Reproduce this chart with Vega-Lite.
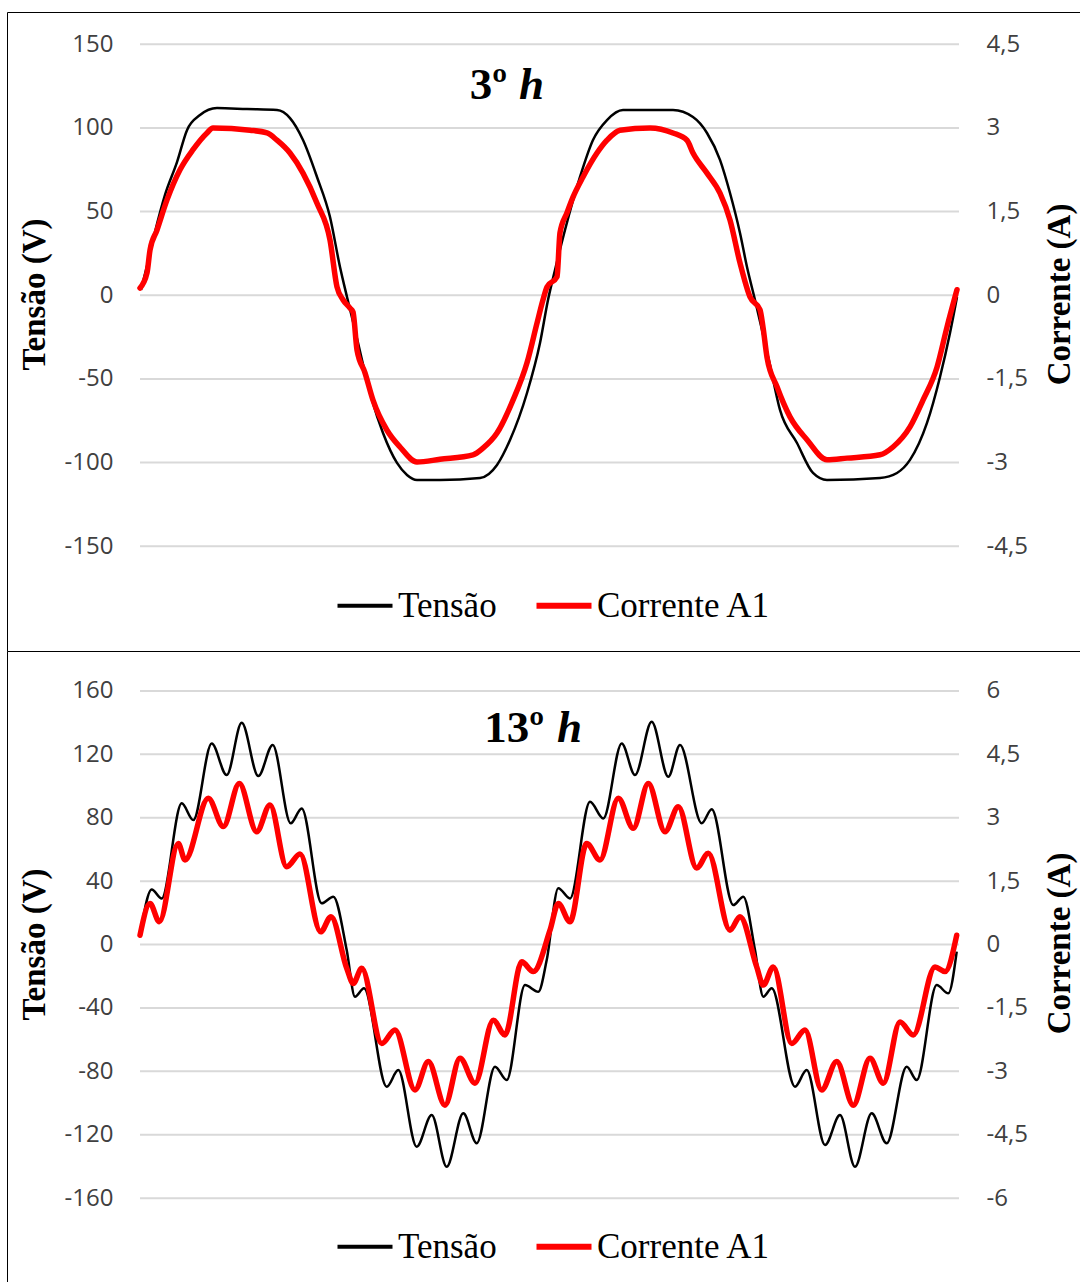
{
"$schema": "https://vega.github.io/schema/vega-lite/v6.json",
"padding": {"left": 7, "top": 12, "right": 0, "bottom": 0},
"spacing": 0,
"datasets": {
"grade3": [{"g":-150},{"g":-100},{"g":-50},{"g":0},{"g":50},{"g":100},{"g":150}],
"grade13": [{"g":-160},{"g":-120},{"g":-80},{"g":-40},{"g":0},{"g":40},{"g":80},{"g":120},{"g":160}],
"tensao3": [
{"t":1,"v":3.2,"serie":"Tensão"},{"t":8,"v":19.9,"serie":"Tensão"},{"t":15,"v":37.8,"serie":"Tensão"},{"t":25,"v":60.0,"serie":"Tensão"},{"t":37,"v":79.6,"serie":"Tensão"},{"t":47,"v":98.7,"serie":"Tensão"},{"t":60,"v":107.7,"serie":"Tensão"},{"t":77,"v":111.9,"serie":"Tensão"},{"t":107,"v":111.3,"serie":"Tensão"},{"t":137,"v":110.7,"serie":"Tensão"},{"t":150,"v":105.9,"serie":"Tensão"},{"t":163,"v":92.8,"serie":"Tensão"},{"t":177,"v":70.7,"serie":"Tensão"},{"t":190,"v":46.8,"serie":"Tensão"},{"t":200,"v":16.9,"serie":"Tensão"},{"t":207,"v":-1.0,"serie":"Tensão"},{"t":215,"v":-20.7,"serie":"Tensão"},{"t":222,"v":-38.7,"serie":"Tensão"},{"t":232,"v":-62.5,"serie":"Tensão"},{"t":243,"v":-82.3,"serie":"Tensão"},{"t":257,"v":-100.2,"serie":"Tensão"},{"t":267,"v":-107.4,"serie":"Tensão"},{"t":277,"v":-110.4,"serie":"Tensão"},{"t":300,"v":-110.4,"serie":"Tensão"},{"t":340,"v":-109.2,"serie":"Tensão"},{"t":357,"v":-101.4,"serie":"Tensão"},{"t":370,"v":-86.5,"serie":"Tensão"},{"t":387,"v":-58.4,"serie":"Tensão"},{"t":400,"v":-28.5,"serie":"Tensão"},{"t":408,"v":-2.8,"serie":"Tensão"},{"t":415,"v":15.1,"serie":"Tensão"},{"t":425,"v":39.0,"serie":"Tensão"},{"t":440,"v":70.7,"serie":"Tensão"},{"t":453,"v":92.8,"serie":"Tensão"},{"t":467,"v":104.7,"serie":"Tensão"},{"t":483,"v":110.7,"serie":"Tensão"},{"t":533,"v":110.7,"serie":"Tensão"},{"t":553,"v":106.5,"serie":"Tensão"},{"t":567,"v":97.0,"serie":"Tensão"},{"t":580,"v":80.9,"serie":"Tensão"},{"t":590,"v":61.1,"serie":"Tensão"},{"t":600,"v":37.2,"serie":"Tensão"},{"t":607,"v":16.9,"serie":"Tensão"},{"t":615,"v":-2.8,"serie":"Tensão"},{"t":622,"v":-20.7,"serie":"Tensão"},{"t":630,"v":-41.7,"serie":"Tensão"},{"t":640,"v":-68.5,"serie":"Tensão"},{"t":657,"v":-88.3,"serie":"Tensão"},{"t":673,"v":-106.2,"serie":"Tensão"},{"t":687,"v":-110.4,"serie":"Tensão"},{"t":740,"v":-109.2,"serie":"Tensão"},{"t":757,"v":-106.2,"serie":"Tensão"},{"t":770,"v":-98.4,"serie":"Tensão"},{"t":787,"v":-76.3,"serie":"Tensão"},{"t":800,"v":-48.8,"serie":"Tensão"},{"t":810,"v":-22.5,"serie":"Tensão"},{"t":817,"v":-1.0,"serie":"Tensão"}
],
"corrente3": [
{"t":0,"i":0.13,"serie":"Corrente A1"},{"t":7,"i":0.40,"serie":"Corrente A1"},{"t":10,"i":0.81,"serie":"Corrente A1"},{"t":17,"i":1.17,"serie":"Corrente A1"},{"t":27,"i":1.71,"serie":"Corrente A1"},{"t":40,"i":2.25,"serie":"Corrente A1"},{"t":53,"i":2.61,"serie":"Corrente A1"},{"t":67,"i":2.91,"serie":"Corrente A1"},{"t":73,"i":3.00,"serie":"Corrente A1"},{"t":110,"i":2.96,"serie":"Corrente A1"},{"t":127,"i":2.91,"serie":"Corrente A1"},{"t":137,"i":2.78,"serie":"Corrente A1"},{"t":150,"i":2.55,"serie":"Corrente A1"},{"t":163,"i":2.19,"serie":"Corrente A1"},{"t":177,"i":1.65,"serie":"Corrente A1"},{"t":190,"i":0.99,"serie":"Corrente A1"},{"t":197,"i":0.15,"serie":"Corrente A1"},{"t":203,"i":-0.08,"serie":"Corrente A1"},{"t":210,"i":-0.23,"serie":"Corrente A1"},{"t":213,"i":-0.30,"serie":"Corrente A1"},{"t":217,"i":-0.98,"serie":"Corrente A1"},{"t":225,"i":-1.39,"serie":"Corrente A1"},{"t":233,"i":-1.88,"serie":"Corrente A1"},{"t":247,"i":-2.42,"serie":"Corrente A1"},{"t":260,"i":-2.72,"serie":"Corrente A1"},{"t":277,"i":-2.99,"serie":"Corrente A1"},{"t":300,"i":-2.94,"serie":"Corrente A1"},{"t":333,"i":-2.86,"serie":"Corrente A1"},{"t":343,"i":-2.74,"serie":"Corrente A1"},{"t":357,"i":-2.47,"serie":"Corrente A1"},{"t":373,"i":-1.88,"serie":"Corrente A1"},{"t":387,"i":-1.21,"serie":"Corrente A1"},{"t":397,"i":-0.50,"serie":"Corrente A1"},{"t":403,"i":-0.08,"serie":"Corrente A1"},{"t":407,"i":0.15,"serie":"Corrente A1"},{"t":417,"i":0.33,"serie":"Corrente A1"},{"t":420,"i":1.12,"serie":"Corrente A1"},{"t":427,"i":1.48,"serie":"Corrente A1"},{"t":433,"i":1.76,"serie":"Corrente A1"},{"t":443,"i":2.12,"serie":"Corrente A1"},{"t":457,"i":2.55,"serie":"Corrente A1"},{"t":467,"i":2.78,"serie":"Corrente A1"},{"t":480,"i":2.96,"serie":"Corrente A1"},{"t":510,"i":3.00,"serie":"Corrente A1"},{"t":533,"i":2.91,"serie":"Corrente A1"},{"t":547,"i":2.78,"serie":"Corrente A1"},{"t":553,"i":2.55,"serie":"Corrente A1"},{"t":567,"i":2.19,"serie":"Corrente A1"},{"t":580,"i":1.83,"serie":"Corrente A1"},{"t":590,"i":1.35,"serie":"Corrente A1"},{"t":600,"i":0.58,"serie":"Corrente A1"},{"t":610,"i":-0.03,"serie":"Corrente A1"},{"t":620,"i":-0.26,"serie":"Corrente A1"},{"t":623,"i":-0.57,"serie":"Corrente A1"},{"t":627,"i":-1.11,"serie":"Corrente A1"},{"t":637,"i":-1.64,"serie":"Corrente A1"},{"t":650,"i":-2.18,"serie":"Corrente A1"},{"t":667,"i":-2.59,"serie":"Corrente A1"},{"t":687,"i":-2.95,"serie":"Corrente A1"},{"t":707,"i":-2.92,"serie":"Corrente A1"},{"t":740,"i":-2.86,"serie":"Corrente A1"},{"t":753,"i":-2.72,"serie":"Corrente A1"},{"t":770,"i":-2.36,"serie":"Corrente A1"},{"t":783,"i":-1.88,"serie":"Corrente A1"},{"t":797,"i":-1.29,"serie":"Corrente A1"},{"t":807,"i":-0.57,"serie":"Corrente A1"},{"t":817,"i":0.10,"serie":"Corrente A1"}
],
"tensao13": [
{"t":0,"v":4.9,"serie":"Tensão"},{"t":11.7,"v":34.8,"serie":"Tensão"},{"t":21.7,"v":29.1,"serie":"Tensão"},{"t":41.7,"v":89.1,"serie":"Tensão"},{"t":53.3,"v":78.5,"serie":"Tensão"},{"t":71.7,"v":126.9,"serie":"Tensão"},{"t":86.7,"v":106.9,"serie":"Tensão"},{"t":101.7,"v":139.9,"serie":"Tensão"},{"t":118.3,"v":106.3,"serie":"Tensão"},{"t":132.7,"v":125.9,"serie":"Tensão"},{"t":150.7,"v":76.5,"serie":"Tensão"},{"t":161.7,"v":85.9,"serie":"Tensão"},{"t":181.7,"v":26.0,"serie":"Tensão"},{"t":193.3,"v":30.2,"serie":"Tensão"},{"t":206.7,"v":-3.5,"serie":"Tensão"},{"t":215,"v":-32.9,"serie":"Tensão"},{"t":224,"v":-27.6,"serie":"Tensão"},{"t":246.7,"v":-89.7,"serie":"Tensão"},{"t":258.3,"v":-79.2,"serie":"Tensão"},{"t":276.7,"v":-127.6,"serie":"Tensão"},{"t":291.7,"v":-107.6,"serie":"Tensão"},{"t":306.7,"v":-140.2,"serie":"Tensão"},{"t":323.3,"v":-106.5,"serie":"Tensão"},{"t":336.7,"v":-125.4,"serie":"Tensão"},{"t":355,"v":-77.1,"serie":"Tensão"},{"t":366.7,"v":-85.5,"serie":"Tensão"},{"t":385,"v":-25.6,"serie":"Tensão"},{"t":398.3,"v":-29.8,"serie":"Tensão"},{"t":406.7,"v":-9.8,"serie":"Tensão"},{"t":418.3,"v":35.5,"serie":"Tensão"},{"t":430,"v":29.1,"serie":"Tensão"},{"t":450,"v":90.1,"serie":"Tensão"},{"t":463.3,"v":79.6,"serie":"Tensão"},{"t":481.7,"v":126.9,"serie":"Tensão"},{"t":495,"v":106.9,"serie":"Tensão"},{"t":511.7,"v":140.6,"serie":"Tensão"},{"t":528.3,"v":105.9,"serie":"Tensão"},{"t":540,"v":125.9,"serie":"Tensão"},{"t":561.7,"v":76.5,"serie":"Tensão"},{"t":571.7,"v":85.3,"serie":"Tensão"},{"t":593.3,"v":24.9,"serie":"Tensão"},{"t":603.3,"v":30.2,"serie":"Tensão"},{"t":615,"v":-3.5,"serie":"Tensão"},{"t":623.3,"v":-32.9,"serie":"Tensão"},{"t":631.7,"v":-27.6,"serie":"Tensão"},{"t":655,"v":-89.7,"serie":"Tensão"},{"t":666.7,"v":-79.2,"serie":"Tensão"},{"t":685,"v":-126.5,"serie":"Tensão"},{"t":700,"v":-107.6,"serie":"Tensão"},{"t":715,"v":-140.2,"serie":"Tensão"},{"t":731.7,"v":-106.5,"serie":"Tensão"},{"t":746.7,"v":-125.4,"serie":"Tensão"},{"t":766.7,"v":-77.1,"serie":"Tensão"},{"t":776.7,"v":-85.5,"serie":"Tensão"},{"t":796.7,"v":-25.6,"serie":"Tensão"},{"t":808.3,"v":-30.8,"serie":"Tensão"},{"t":816.7,"v":-4.5,"serie":"Tensão"}
],
"corrente13": [
{"t":0,"i":0.22,"serie":"Corrente A1"},{"t":10,"i":0.97,"serie":"Corrente A1"},{"t":19.3,"i":0.54,"serie":"Corrente A1"},{"t":38.3,"i":2.39,"serie":"Corrente A1"},{"t":45,"i":2.00,"serie":"Corrente A1"},{"t":68.3,"i":3.46,"serie":"Corrente A1"},{"t":83.3,"i":2.79,"serie":"Corrente A1"},{"t":99.3,"i":3.81,"serie":"Corrente A1"},{"t":116.7,"i":2.67,"serie":"Corrente A1"},{"t":130,"i":3.30,"serie":"Corrente A1"},{"t":146.7,"i":1.84,"serie":"Corrente A1"},{"t":160,"i":2.14,"serie":"Corrente A1"},{"t":180.7,"i":0.30,"serie":"Corrente A1"},{"t":191,"i":0.66,"serie":"Corrente A1"},{"t":206.7,"i":-0.56,"serie":"Corrente A1"},{"t":213.3,"i":-0.92,"serie":"Corrente A1"},{"t":221.7,"i":-0.56,"serie":"Corrente A1"},{"t":241.7,"i":-2.34,"serie":"Corrente A1"},{"t":255,"i":-2.02,"serie":"Corrente A1"},{"t":275,"i":-3.44,"serie":"Corrente A1"},{"t":288.3,"i":-2.77,"serie":"Corrente A1"},{"t":305,"i":-3.80,"serie":"Corrente A1"},{"t":320,"i":-2.69,"serie":"Corrente A1"},{"t":335,"i":-3.28,"serie":"Corrente A1"},{"t":353.3,"i":-1.79,"serie":"Corrente A1"},{"t":365,"i":-2.14,"serie":"Corrente A1"},{"t":381.7,"i":-0.41,"serie":"Corrente A1"},{"t":393.3,"i":-0.64,"serie":"Corrente A1"},{"t":410,"i":0.34,"serie":"Corrente A1"},{"t":418.3,"i":0.97,"serie":"Corrente A1"},{"t":430,"i":0.54,"serie":"Corrente A1"},{"t":446.7,"i":2.39,"serie":"Corrente A1"},{"t":460,"i":2.00,"serie":"Corrente A1"},{"t":478.3,"i":3.46,"serie":"Corrente A1"},{"t":493.3,"i":2.75,"serie":"Corrente A1"},{"t":508.3,"i":3.81,"serie":"Corrente A1"},{"t":525,"i":2.67,"serie":"Corrente A1"},{"t":538.3,"i":3.26,"serie":"Corrente A1"},{"t":556.7,"i":1.81,"serie":"Corrente A1"},{"t":568.3,"i":2.16,"serie":"Corrente A1"},{"t":590,"i":0.34,"serie":"Corrente A1"},{"t":600,"i":0.66,"serie":"Corrente A1"},{"t":616.7,"i":-0.53,"serie":"Corrente A1"},{"t":623.3,"i":-0.96,"serie":"Corrente A1"},{"t":633.3,"i":-0.53,"serie":"Corrente A1"},{"t":651.7,"i":-2.34,"serie":"Corrente A1"},{"t":665,"i":-2.02,"serie":"Corrente A1"},{"t":681.7,"i":-3.44,"serie":"Corrente A1"},{"t":696.7,"i":-2.77,"serie":"Corrente A1"},{"t":713.3,"i":-3.80,"serie":"Corrente A1"},{"t":730,"i":-2.69,"serie":"Corrente A1"},{"t":743.3,"i":-3.28,"serie":"Corrente A1"},{"t":760,"i":-1.83,"serie":"Corrente A1"},{"t":773.3,"i":-2.14,"serie":"Corrente A1"},{"t":795,"i":-0.53,"serie":"Corrente A1"},{"t":805,"i":-0.64,"serie":"Corrente A1"},{"t":816.7,"i":0.22,"serie":"Corrente A1"}
]
},
"vconcat": [
{
"width": 1073, "height": 639,
"layer": [
{"data": {"name": "grade3"}, "mark": {"type": "rule", "color": "#d9d9d9", "strokeWidth": 2},
 "encoding": {"x": {"datum": 0, "type": "quantitative", "scale": {"domain": [-133, 940], "nice": false, "zero": false}}, "x2": {"datum": 819},
  "y": {"field": "g", "type": "quantitative", "scale": {"domain": [-212.6, 169.3], "nice": false, "zero": false}, "axis": null}}},
{"data": {"name": "tensao3"}, "mark": {"type": "line", "strokeWidth": 2.5, "interpolate": "monotone", "strokeJoin": "round"},
 "encoding": {
  "x": {"field": "t", "type": "quantitative", "scale": {"domain": [-133, 940], "nice": false, "zero": false},
   "axis": {"orient": "top", "domain": true, "domainColor": "#000000", "domainWidth": 1, "labels": false, "ticks": false, "grid": false, "title": null}},
  "y": {"field": "v", "type": "quantitative", "scale": {"domain": [-212.6, 169.3], "nice": false, "zero": false},
   "axis": {"orient": "left", "values": [-150, -100, -50, 0, 50, 100, 150], "labelExpr": "toString(datum.value)", "domain": true, "domainColor": "#000000", "domainWidth": 1, "ticks": false, "tickSize": 0, "grid": false, "labelPadding": -106, "labelAlign": "right", "labelBaseline": "middle", "labelFlush": false, "title": "Tensão (V)", "titleX": 37, "titleY": 282, "titleAngle": -90, "titleAlign": "center", "titleBaseline": "alphabetic"}},
  "color": {"field": "serie", "type": "nominal", "scale": {"domain": ["Tensão", "Corrente A1"], "range": ["#000000", "#ff0000"]},
   "legend": {"title": null, "orient": "none", "legendX": 340.5, "legendY": 576, "direction": "horizontal", "symbolType": "stroke", "symbolSize": 3025, "symbolStrokeWidth": 4, "labelFont": "Liberation Serif", "labelFontSize": 35, "labelColor": "#000000", "labelOffset": 15.5, "columnPadding": 27, "padding": 0, "labelLimit": 400,
    "encode": {"symbols": {"update": {"strokeWidth": {"signal": "datum.value === 'Tensão' ? 4 : 6"}}}}}}}},
{"data": {"values": [{"rotulo": "3º"}]}, "mark": {"type": "text", "font": "Liberation Serif", "fontSize": 45, "fontWeight": "bold", "align": "right", "baseline": "alphabetic", "color": "#000000"},
 "encoding": {"x": {"datum": 367, "type": "quantitative", "scale": {"domain": [-133, 940], "nice": false, "zero": false}}, "y": {"datum": 117.3, "type": "quantitative", "scale": {"domain": [-212.6, 169.3], "nice": false, "zero": false}, "axis": null}, "text": {"field": "rotulo"}}},
{"data": {"values": [{"rotulo": "h"}]}, "mark": {"type": "text", "font": "Liberation Serif", "fontSize": 45, "fontWeight": "bold", "fontStyle": "italic", "align": "left", "baseline": "alphabetic", "color": "#000000"},
 "encoding": {"x": {"datum": 379, "type": "quantitative", "scale": {"domain": [-133, 940], "nice": false, "zero": false}}, "y": {"datum": 117.3, "type": "quantitative", "scale": {"domain": [-212.6, 169.3], "nice": false, "zero": false}, "axis": null}, "text": {"field": "rotulo"}}},
{"data": {"name": "corrente3"}, "mark": {"type": "line", "strokeWidth": 5.5, "interpolate": "monotone", "strokeJoin": "round", "strokeCap": "round"},
 "encoding": {
  "x": {"field": "t", "type": "quantitative", "scale": {"domain": [-133, 940], "nice": false, "zero": false}},
  "y": {"field": "i", "type": "quantitative", "scale": {"domain": [-6.378, 5.079], "nice": false, "zero": false},
   "axis": {"orient": "right", "values": [-4.5, -3, -1.5, 0, 1.5, 3, 4.5], "labelExpr": "replace(toString(datum.value), '.', ',')", "domain": false, "ticks": false, "tickSize": 0, "grid": false, "labelPadding": -94, "labelAlign": "left", "labelBaseline": "middle", "labelFlush": false, "title": "Corrente (A)", "titleX": -11, "titleY": 282, "titleAngle": -90, "titleAlign": "center", "titleBaseline": "alphabetic"}},
  "color": {"field": "serie", "type": "nominal", "scale": {"domain": ["Tensão", "Corrente A1"], "range": ["#000000", "#ff0000"]},
   "legend": {"title": null, "orient": "none", "legendX": 340.5, "legendY": 576, "direction": "horizontal", "symbolType": "stroke", "symbolSize": 3025, "symbolStrokeWidth": 4, "labelFont": "Liberation Serif", "labelFontSize": 35, "labelColor": "#000000", "labelOffset": 15.5, "columnPadding": 27, "padding": 0, "labelLimit": 400,
    "encode": {"symbols": {"update": {"strokeWidth": {"signal": "datum.value === 'Tensão' ? 4 : 6"}}}}}}}}
],
"resolve": {"scale": {"y": "independent"}}
},
{
"width": 1073, "height": 631,
"layer": [
{"data": {"name": "grade13"}, "mark": {"type": "rule", "color": "#d9d9d9", "strokeWidth": 2},
 "encoding": {"x": {"datum": 0, "type": "quantitative", "scale": {"domain": [-133, 940], "nice": false, "zero": false}}, "x2": {"datum": 819},
  "y": {"field": "g", "type": "quantitative", "scale": {"domain": [-212.9, 185.2], "nice": false, "zero": false}, "axis": null}}},
{"data": {"name": "tensao13"}, "mark": {"type": "line", "strokeWidth": 2.5, "interpolate": "monotone", "strokeJoin": "round"},
 "encoding": {
  "x": {"field": "t", "type": "quantitative", "scale": {"domain": [-133, 940], "nice": false, "zero": false},
   "axis": {"orient": "top", "domain": true, "domainColor": "#000000", "domainWidth": 1, "labels": false, "ticks": false, "grid": false, "title": null}},
  "y": {"field": "v", "type": "quantitative", "scale": {"domain": [-212.9, 185.2], "nice": false, "zero": false},
   "axis": {"orient": "left", "values": [-160, -120, -80, -40, 0, 40, 80, 120, 160], "labelExpr": "toString(datum.value)", "domain": true, "domainColor": "#000000", "domainWidth": 1, "ticks": false, "tickSize": 0, "grid": false, "labelPadding": -106, "labelAlign": "right", "labelBaseline": "middle", "labelFlush": false, "title": "Tensão (V)", "titleX": 37, "titleY": 293, "titleAngle": -90, "titleAlign": "center", "titleBaseline": "alphabetic"}},
  "color": {"field": "serie", "type": "nominal", "scale": {"domain": ["Tensão", "Corrente A1"], "range": ["#000000", "#ff0000"]},
   "legend": {"title": null, "orient": "none", "legendX": 340.5, "legendY": 578, "direction": "horizontal", "symbolType": "stroke", "symbolSize": 3025, "symbolStrokeWidth": 4, "labelFont": "Liberation Serif", "labelFontSize": 35, "labelColor": "#000000", "labelOffset": 15.5, "columnPadding": 27, "padding": 0, "labelLimit": 400,
    "encode": {"symbols": {"update": {"strokeWidth": {"signal": "datum.value === 'Tensão' ? 4 : 6"}}}}}}}},
{"data": {"values": [{"rotulo": "13º"}]}, "mark": {"type": "text", "font": "Liberation Serif", "fontSize": 45, "fontWeight": "bold", "align": "right", "baseline": "alphabetic", "color": "#000000"},
 "encoding": {"x": {"datum": 404, "type": "quantitative", "scale": {"domain": [-133, 940], "nice": false, "zero": false}}, "y": {"datum": 127.8, "type": "quantitative", "scale": {"domain": [-212.9, 185.2], "nice": false, "zero": false}, "axis": null}, "text": {"field": "rotulo"}}},
{"data": {"values": [{"rotulo": "h"}]}, "mark": {"type": "text", "font": "Liberation Serif", "fontSize": 45, "fontWeight": "bold", "fontStyle": "italic", "align": "left", "baseline": "alphabetic", "color": "#000000"},
 "encoding": {"x": {"datum": 417, "type": "quantitative", "scale": {"domain": [-133, 940], "nice": false, "zero": false}}, "y": {"datum": 127.8, "type": "quantitative", "scale": {"domain": [-212.9, 185.2], "nice": false, "zero": false}, "axis": null}, "text": {"field": "rotulo"}}},
{"data": {"name": "corrente13"}, "mark": {"type": "line", "strokeWidth": 5.5, "interpolate": "monotone", "strokeJoin": "round", "strokeCap": "round"},
 "encoding": {
  "x": {"field": "t", "type": "quantitative", "scale": {"domain": [-133, 940], "nice": false, "zero": false}},
  "y": {"field": "i", "type": "quantitative", "scale": {"domain": [-7.984, 6.945], "nice": false, "zero": false},
   "axis": {"orient": "right", "values": [-6, -4.5, -3, -1.5, 0, 1.5, 3, 4.5, 6], "labelExpr": "replace(toString(datum.value), '.', ',')", "domain": false, "ticks": false, "tickSize": 0, "grid": false, "labelPadding": -94, "labelAlign": "left", "labelBaseline": "middle", "labelFlush": false, "title": "Corrente (A)", "titleX": -11, "titleY": 292, "titleAngle": -90, "titleAlign": "center", "titleBaseline": "alphabetic"}},
  "color": {"field": "serie", "type": "nominal", "scale": {"domain": ["Tensão", "Corrente A1"], "range": ["#000000", "#ff0000"]},
   "legend": {"title": null, "orient": "none", "legendX": 340.5, "legendY": 578, "direction": "horizontal", "symbolType": "stroke", "symbolSize": 3025, "symbolStrokeWidth": 4, "labelFont": "Liberation Serif", "labelFontSize": 35, "labelColor": "#000000", "labelOffset": 15.5, "columnPadding": 27, "padding": 0, "labelLimit": 400,
    "encode": {"symbols": {"update": {"strokeWidth": {"signal": "datum.value === 'Tensão' ? 4 : 6"}}}}}}}}
],
"resolve": {"scale": {"y": "independent"}}
}
],
"resolve": {"scale": {"color": "independent", "x": "independent"}, "legend": {"color": "independent"}},
"config": {
 "view": {"stroke": null},
 "axis": {"labelFont": "Open Sans", "labelFontSize": 24, "labelColor": "#404040", "titleFont": "Liberation Serif", "titleFontSize": 33, "titleFontWeight": "bold", "titleColor": "#000000"}
}
}
